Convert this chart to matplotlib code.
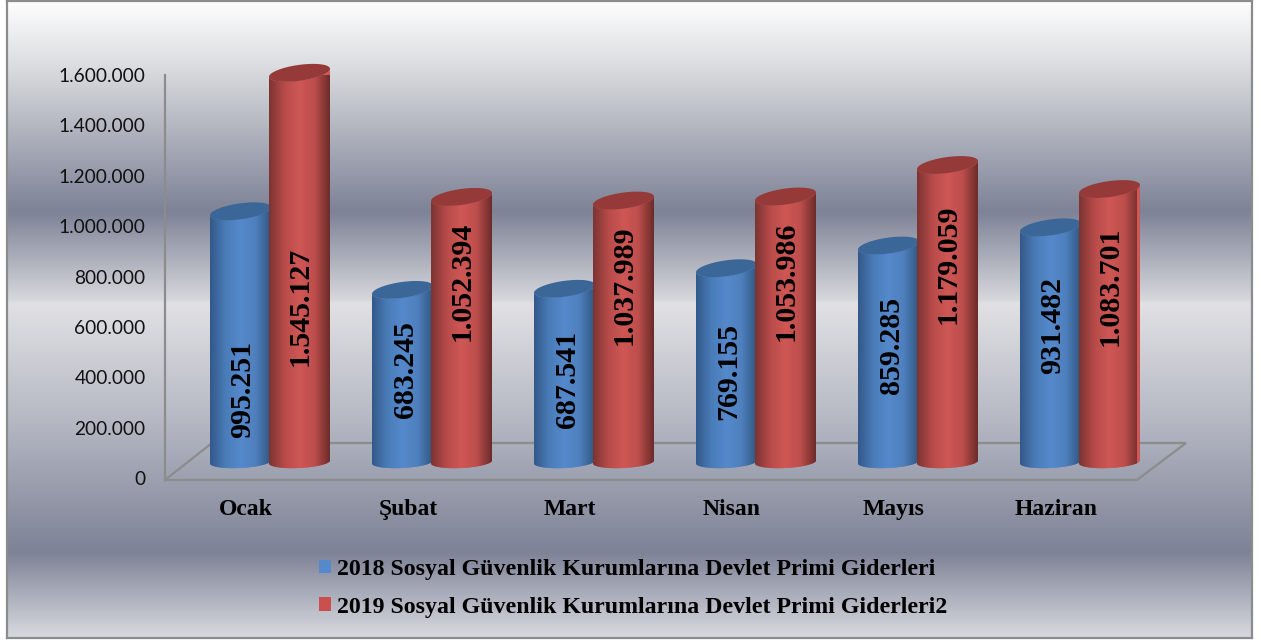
import numpy as np
import matplotlib
matplotlib.use("Agg")
import matplotlib.pyplot as plt
from matplotlib.colors import LinearSegmentedColormap
from matplotlib.patches import Patch, PathPatch
from matplotlib.path import Path
from matplotlib.transforms import Affine2D

months = ["Ocak", "Şubat", "Mart", "Nisan", "Mayıs", "Haziran"]
values_2018 = [995251, 683245, 687541, 769155, 859285, 931482]
values_2019 = [1545127, 1052394, 1037989, 1053986, 1179059, 1083701]
labels_2018 = ["995.251", "683.245", "687.541", "769.155", "859.285", "931.482"]
labels_2019 = ["1.545.127", "1.052.394", "1.037.989", "1.053.986", "1.179.059", "1.083.701"]
series_names = [
    "2018 Sosyal Güvenlik Kurumlarına Devlet Primi Giderleri",
    "2019 Sosyal Güvenlik Kurumlarına Devlet Primi Giderleri2",
]
yticks = [0, 200000, 400000, 600000, 800000, 1000000, 1200000, 1400000, 1600000]
ytick_labels = ["0", "200.000", "400.000", "600.000", "800.000", "1.000.000",
                "1.200.000", "1.400.000", "1.600.000"]

# value labels were hand placed in the original, pixel rows of their centres
label_rows_2018 = [389, 370, 380, 371, 345, 325]
label_rows_2019 = [306, 281, 285, 281, 264, 286]

W, H = 1261, 641
BLUE = ["#33598a", "#4a7cb8", "#5589cc", "#4f80bd", "#305781"]
RED = ["#7c3432", "#b74b49", "#cf5755", "#bd4e4c", "#6c2c2a"]
BLUE_CAP = "#3a6698"
RED_CAP = "#953a38"
GREY = "#8c8c8c"

bg_stops = [(0.0, "#fefefe"), (0.10, "#dcdde0"), (0.33, "#7d8296"), (0.468, "#d6d7db"),
            (0.475, "#e1e1e4"), (0.66, "#b5b8c3"), (0.866, "#7d8296"), (1.0, "#d9dae0")]

fig = plt.figure(figsize=(W / 100, H / 100), dpi=100, facecolor="white")


def px_axes(left, top, right, bottom):
    return fig.add_axes([left / W, 1 - bottom / H, (right - left) / W, (bottom - top) / H])


# frame with the banded background
bg = px_axes(7, 1, 1252, 638)
bg.imshow(np.linspace(0, 1, 640).reshape(-1, 1), aspect="auto",
          cmap=LinearSegmentedColormap.from_list("bg", bg_stops, N=640), vmin=0, vmax=1)
bg.set_xticks([])
bg.set_yticks([])
for s in bg.spines.values():
    s.set_color(GREY)
    s.set_linewidth(1.6)

# value axis: 0 at row 478, 1.600.000 at row 75, one category is 162 px
ax = px_axes(165, 75, 1137, 478)
ax.patch.set_alpha(0)
ax.set_xlim(0, 6)
ax.set_ylim(0, 1600000)
for name in ["top", "right", "bottom"]:
    ax.spines[name].set_visible(False)
ax.spines["left"].set_color(GREY)
ax.spines["left"].set_linewidth(1.6)
ax.spines["left"].set_bounds(0, 1600000)

ax.set_yticks(yticks)
ax.set_yticklabels(ytick_labels, fontfamily="Lato", fontsize=13.8, color="#111111")
ax.tick_params(axis="y", length=0, pad=14)

x = np.arange(len(months)) + 0.5
ax.set_xticks(x)
ax.set_xticklabels(months, fontfamily="Liberation Serif", fontweight="bold", fontsize=17)
ax.tick_params(axis="x", length=0, pad=15)

# floor of the fake 3d box
sx = 6 / 972
sy = 1600000 / 403
floor = np.array([[0, -2], [972, -2], [1021, 35], [47, 35], [0, -2]], dtype=float)
ax.plot(floor[:, 0] * sx, floor[:, 1] * sy, color=GREY, lw=1.6, clip_on=False, zorder=1,
        solid_joinstyle="miter")

# bars sit on the back of the floor: 23 px right and 16 px up from the axis
shift = ax.transData + Affine2D().translate(23, 16)
bar_w = 61 * sx
t = np.linspace(0, np.pi, 60)


def arc(cx, v, half_h, tilt, lower=True):
    # half of a slightly tilted ellipse, tilt raises the right side
    sign = -1 if lower else 1
    xs = cx - bar_w / 2 * np.cos(t)
    ys = v + (sign * half_h * np.sin(t) - tilt * np.cos(t)) * sy
    return np.column_stack([xs, ys])


def cylinder(cx, v, ramp, cap, z):
    bar = ax.bar(cx, v, bar_w, color=ramp[2], transform=shift, zorder=z)[0]
    low = arc(cx, 0, 6, 1.5)
    top_low = arc(cx, v, 8, 4)
    top_high = arc(cx, v, 8, 4, lower=False)
    body = np.vstack([low, top_low[::-1]])
    patch = PathPatch(Path(np.vstack([body, body[:1]])), fc=ramp[2], ec="none",
                      transform=shift, zorder=z, clip_on=False)
    ax.add_patch(patch)
    bar.set_clip_path(patch)
    img = ax.imshow(np.linspace(0, 1, 120).reshape(1, -1), aspect="auto", zorder=z + 0.1,
                    cmap=LinearSegmentedColormap.from_list("c", ramp),
                    extent=[cx - bar_w / 2, cx + bar_w / 2, -20 * sy, v + 12 * sy],
                    transform=shift, clip_on=True)
    img.set_clip_path(patch)
    top = np.vstack([top_low, top_high[::-1]])
    ax.add_patch(PathPatch(Path(np.vstack([top, top[:1]])), fc=cap, ec="none",
                           transform=shift, zorder=z + 0.2, clip_on=False))


for i, cx in enumerate(x):
    cylinder(cx - 28.5 * sx, values_2018[i], BLUE, BLUE_CAP, 3)
    cylinder(cx + 30.5 * sx, values_2019[i], RED, RED_CAP, 4)
    for v_text, row, off in [(labels_2018[i], label_rows_2018[i], -26),
                             (labels_2019[i], label_rows_2019[i], 31)]:
        ax.text(cx + (off + 23) * sx, (478 - row) * sy, v_text, rotation=90, ha="center",
                va="center", fontfamily="Liberation Serif", fontweight="bold", fontsize=21.5,
                color="black", zorder=6)

ax.set_xlim(0, 6)
ax.set_ylim(0, 1600000)
ax.set_aspect("auto")

handles = [Patch(fc="#5589cc", ec="none"), Patch(fc="#c9504e", ec="none")]
fig.legend(handles, series_names, loc="upper left", bbox_to_anchor=(319 / W, 1 - 559 / H),
           frameon=False, handlelength=0.5, handleheight=0.5, handletextpad=0.27,
           labelspacing=0.7, borderpad=0, borderaxespad=0,
           prop={"family": "Liberation Serif", "weight": "bold", "size": 17.2})

fig.savefig("out.png", dpi=100)
plt.close(fig)
